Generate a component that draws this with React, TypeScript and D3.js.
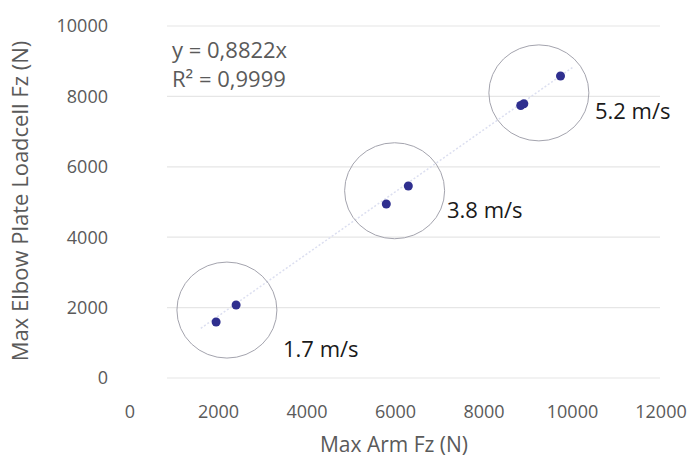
import * as d3 from "d3";
import React from "react";

// measured points, grouped by impact speed
const armFz = [1946, 2398, 5792, 6290, 8830, 8900, 9729];
const elbowFz = [1590, 2074, 4943, 5455, 7740, 7790, 8580];

// annotation circles and their labels (data units)
const groupLabels = ["1.7 m/s", "3.8 m/s", "5.2 m/s"];
const groupCx = [2190, 5980, 9240];
const groupCy = [1930, 5320, 8100];
const labelX = [3458, 7164, 10508];
const labelY = [597, 4545, 7358];

const xTicks = [0, 2000, 4000, 6000, 8000, 10000, 12000];
const yTicks = [0, 2000, 4000, 6000, 8000, 10000];

const slope = 0.8822;
const trendX = [1600, 10000];

const width = 700;
const height = 458;
const font = "'Open Sans', Lato, sans-serif";
const textGray = "#5a5a5a";

export default function App() {
  const x = d3.scaleLinear().domain([0, 12000]).range([130, 661]);
  const y = d3.scaleLinear().domain([0, 10000]).range([378, 26]);
  const gridLeft = 167;
  const gridRight = 660;

  const trend = d3
    .line<number>()
    .x((d) => x(d))
    .y((d) => y(d * slope));

  return (
    <svg
      width={width}
      height={height}
      style={{ position: "absolute", left: 0, top: 0, background: "#fff" }}
    >
      {yTicks.map((t) => (
        <g key={t}>
          <line
            x1={gridLeft}
            x2={gridRight}
            y1={y(t)}
            y2={y(t)}
            stroke="#e6e6e6"
            strokeWidth={1.2}
          />
          <text
            x={108}
            y={y(t)}
            dy="0.36em"
            textAnchor="end"
            fontFamily={font}
            fontSize={18}
            fill={textGray}
          >
            {t}
          </text>
        </g>
      ))}
      {xTicks.map((t) => (
        <text
          key={t}
          x={x(t)}
          y={418}
          textAnchor="middle"
          fontFamily={font}
          fontSize={18}
          fill={textGray}
        >
          {t}
        </text>
      ))}

      <path
        d={trend(trendX) || ""}
        fill="none"
        stroke="#dcdff0"
        strokeWidth={1.5}
        strokeDasharray="2 2"
      />

      {groupLabels.map((l, i) => (
        <g key={l}>
          <ellipse
            cx={x(groupCx[i])}
            cy={y(groupCy[i])}
            rx={50}
            ry={48}
            fill="none"
            stroke="#a4a4ae"
            strokeWidth={1}
          />
          <text
            x={x(labelX[i])}
            y={y(labelY[i])}
            fontFamily={font}
            fontSize={22}
            fill="#1a1a1a"
          >
            {l}
          </text>
        </g>
      ))}

      {armFz.map((v, i) => (
        <circle key={i} cx={x(v)} cy={y(elbowFz[i])} r={4.5} fill="#2f2f8f" />
      ))}

      <text x={172} y={58} fontFamily={font} fontSize={22} fill={textGray}>
        y = 0,8822x
      </text>
      <text x={172} y={87} fontFamily={font} fontSize={22} fill={textGray}>
        R² = 0,9999
      </text>

      <text
        x={394}
        y={452}
        textAnchor="middle"
        fontFamily={font}
        fontSize={21}
        fill={textGray}
      >
        Max Arm Fz (N)
      </text>
      <text
        transform="translate(28,201) rotate(-90)"
        textAnchor="middle"
        fontFamily={font}
        fontSize={22}
        fill={textGray}
      >
        Max Elbow Plate Loadcell Fz (N)
      </text>
    </svg>
  );
}
